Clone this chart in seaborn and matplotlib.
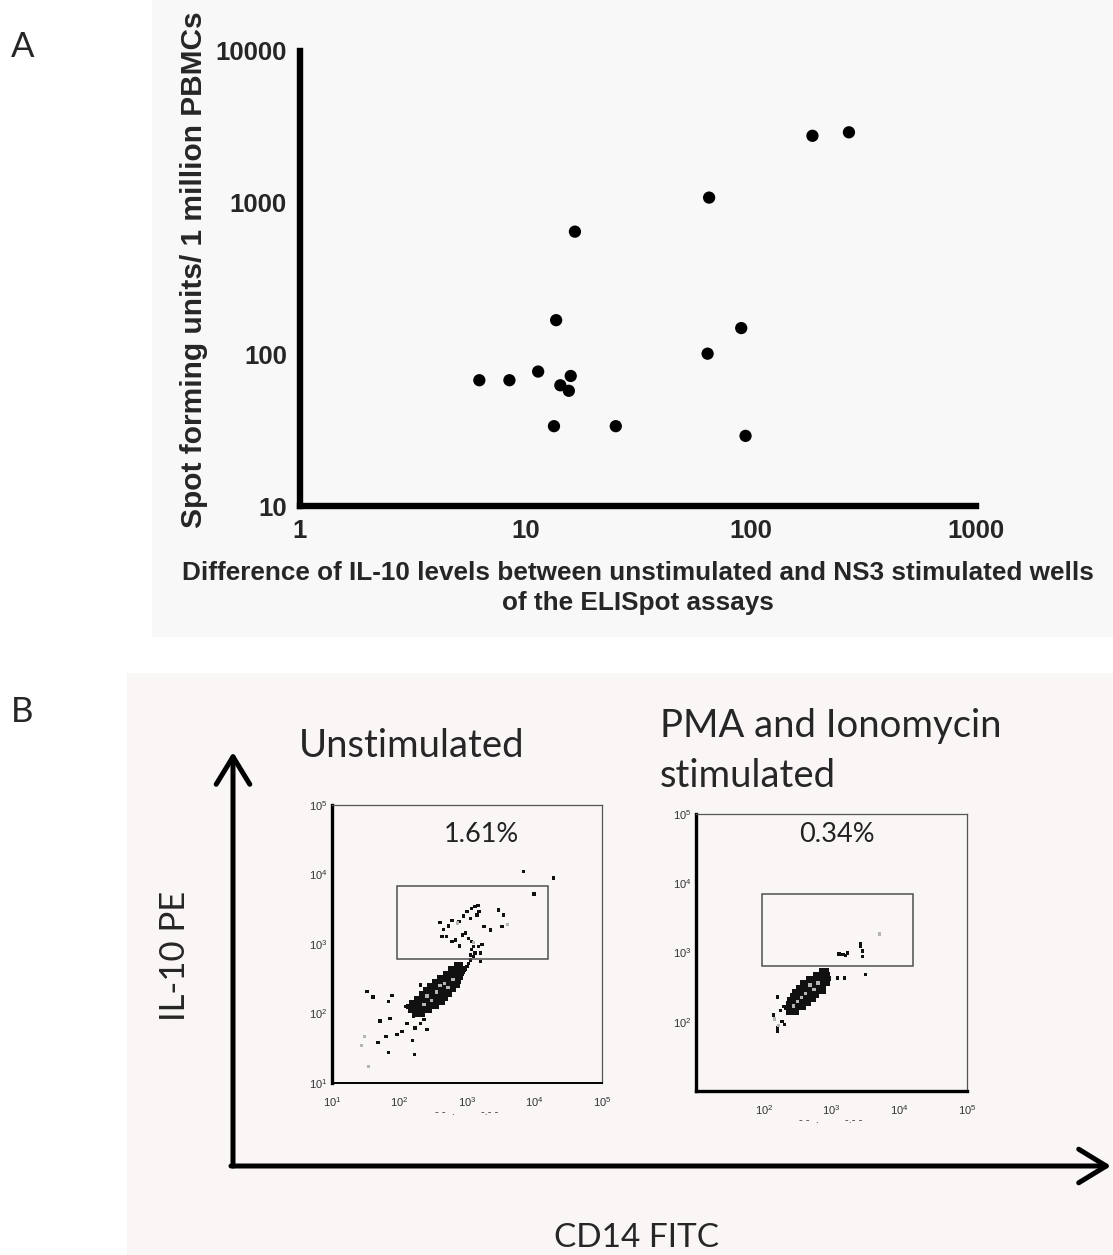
import numpy as np
import pandas as pd
import matplotlib
matplotlib.use("Agg")
import matplotlib.pyplot as plt
import seaborn as sns
from matplotlib.patches import Rectangle, FancyArrowPatch
from matplotlib.ticker import LogLocator, FixedLocator, FixedFormatter, NullFormatter

# ---- Panel A: ELISpot ----
il10_diff = [6.25, 8.5, 11.4, 13.7, 14.3, 15.9, 15.6, 13.4, 16.6, 25.2,
             65.4, 64.4, 90.8, 94.9, 188, 273]
sfu = [67.5, 67.5, 77, 168, 62.5, 72, 57.5, 33.6, 644, 33.6,
       1080, 101, 149, 29, 2760, 2910]
x_ticks_a = [1, 10, 100, 1000]
y_ticks_a = [10, 100, 1000, 10000]

# ---- Panel B: flow cytometry events (log10 CD14 FITC, log10 IL-10 PE) ----
# unstimulated - dense cluster
unst_core_x = [2.22, 2.28, 2.34,
               2.16, 2.20, 2.26, 2.32, 2.38, 2.44,
               2.14, 2.18, 2.24, 2.30, 2.36, 2.42, 2.48, 2.54,
               2.18, 2.22, 2.28, 2.34, 2.40, 2.46, 2.52, 2.58, 2.64,
               2.26, 2.32, 2.38, 2.44, 2.50, 2.56, 2.62, 2.68,
               2.32, 2.38, 2.44, 2.50, 2.56, 2.62, 2.68, 2.74,
               2.38, 2.44, 2.50, 2.56, 2.62, 2.68, 2.74, 2.80,
               2.44, 2.50, 2.56, 2.62, 2.68, 2.74, 2.80, 2.86,
               2.52, 2.58, 2.64, 2.70, 2.76, 2.82, 2.88,
               2.60, 2.66, 2.72, 2.78, 2.84, 2.90,
               2.68, 2.74, 2.80, 2.86, 2.92,
               2.76, 2.82, 2.88, 2.94,
               2.84, 2.90]
unst_core_y = [1.98, 1.98, 1.98,
               2.04, 2.04, 2.04, 2.04, 2.04, 2.04,
               2.10, 2.10, 2.10, 2.10, 2.10, 2.10, 2.10, 2.10,
               2.16, 2.16, 2.16, 2.16, 2.16, 2.16, 2.16, 2.16, 2.16,
               2.22, 2.22, 2.22, 2.22, 2.22, 2.22, 2.22, 2.22,
               2.28, 2.28, 2.28, 2.28, 2.28, 2.28, 2.28, 2.28,
               2.34, 2.34, 2.34, 2.34, 2.34, 2.34, 2.34, 2.34,
               2.40, 2.40, 2.40, 2.40, 2.40, 2.40, 2.40, 2.40,
               2.46, 2.46, 2.46, 2.46, 2.46, 2.46, 2.46,
               2.52, 2.52, 2.52, 2.52, 2.52, 2.52,
               2.58, 2.58, 2.58, 2.58, 2.58,
               2.64, 2.64, 2.64, 2.64,
               2.70, 2.70]
# unstimulated - scattered events
unst_dots_x = [3.84, 4.28, 3.99, 2.60, 2.65, 2.73, 2.78, 2.88, 2.95, 3.00, 3.07, 3.12,
               3.16, 3.18, 3.15, 3.05, 3.25, 3.35, 3.47, 3.54, 3.52, 2.70, 2.78, 2.83,
               2.93, 2.98, 3.02, 3.07, 3.10, 3.17, 3.22, 3.07, 3.12, 3.10, 3.05, 3.20,
               2.89, 2.63, 3.05, 3.02, 3.00, 2.98, 2.95, 3.20,
               1.52, 1.61, 1.84, 1.89, 1.71, 1.86, 1.68, 1.80, 1.84, 2.19, 2.22, 1.96,
               2.04, 2.09, 2.16, 2.21, 2.23, 2.31, 2.36, 2.41, 2.11, 2.31]
unst_dots_y = [4.04, 3.95, 3.72, 3.31, 3.21, 3.26, 3.34, 3.32, 3.40, 3.47, 3.51, 3.54,
               3.55, 3.47, 3.42, 3.37, 3.25, 3.20, 3.49, 3.42, 3.25, 3.11, 3.04, 3.06,
               3.13, 3.16, 3.08, 3.04, 2.96, 2.96, 2.99, 2.92, 2.87, 2.82, 2.84, 2.87,
               2.97, 3.11, 2.77, 2.72, 2.68, 2.63, 2.59, 2.75,
               2.32, 2.24, 2.17, 2.26, 1.89, 1.93, 1.58, 1.67, 1.44, 1.61, 1.41, 1.70,
               1.74, 2.10, 2.08, 1.96, 1.79, 1.86, 1.91, 1.77, 1.86, 2.41]
unst_grey_x = [2.41, 2.55, 2.67, 2.47, 2.72, 2.36, 2.60, 2.79, 1.44, 1.48, 1.54, 2.86, 3.60, 3.10]
unst_grey_y = [2.25, 2.31, 2.43, 2.19, 2.37, 2.13, 2.40, 2.49, 1.54, 1.67, 1.24, 3.30, 3.28, 3.02]

# PMA/Ionomycin - dense cluster
stim_core_x = [2.36, 2.42, 2.48,
               2.34, 2.40, 2.46, 2.52, 2.58,
               2.36, 2.42, 2.48, 2.54, 2.60, 2.66,
               2.38, 2.44, 2.50, 2.56, 2.62, 2.68, 2.74,
               2.42, 2.48, 2.54, 2.60, 2.66, 2.72, 2.78,
               2.46, 2.52, 2.58, 2.64, 2.70, 2.76, 2.82, 2.88,
               2.52, 2.58, 2.64, 2.70, 2.76, 2.82, 2.88,
               2.58, 2.64, 2.70, 2.76, 2.82, 2.88, 2.94,
               2.66, 2.72, 2.78, 2.84, 2.90, 2.96,
               2.76, 2.82, 2.88, 2.94,
               2.86, 2.92]
stim_core_y = [2.14, 2.14, 2.14,
               2.20, 2.20, 2.20, 2.20, 2.20,
               2.26, 2.26, 2.26, 2.26, 2.26, 2.26,
               2.32, 2.32, 2.32, 2.32, 2.32, 2.32, 2.32,
               2.38, 2.38, 2.38, 2.38, 2.38, 2.38, 2.38,
               2.44, 2.44, 2.44, 2.44, 2.44, 2.44, 2.44, 2.44,
               2.50, 2.50, 2.50, 2.50, 2.50, 2.50, 2.50,
               2.56, 2.56, 2.56, 2.56, 2.56, 2.56, 2.56,
               2.62, 2.62, 2.62, 2.62, 2.62, 2.62,
               2.68, 2.68, 2.68, 2.68,
               2.74, 2.74]
stim_dots_x = [2.20, 2.14, 2.20, 2.20, 2.27, 2.31, 2.25, 2.30, 3.11, 3.17, 3.21, 3.24,
               3.46, 3.46, 3.43, 3.43, 3.09, 3.19, 3.50]
stim_dots_y = [2.36, 2.10, 1.91, 1.86, 2.00, 1.96, 2.16, 2.22, 2.98, 2.97, 2.96, 2.99,
               3.02, 2.94, 3.13, 3.09, 2.63, 2.63, 2.68]
stim_grey_x = [3.71, 2.16, 2.22, 2.50, 2.62, 2.74, 2.56, 2.80, 2.44, 2.68]
stim_grey_y = [3.27, 2.04, 1.95, 2.29, 2.41, 2.47, 2.35, 2.56, 2.23, 2.53]

# gate (log10 bounds) and percentages
gate_unst = (1.96, 4.20, 2.79, 3.84)
gate_stim = (1.98, 4.20, 2.80, 3.85)
pct_unst = "1.61%"
pct_stim = "0.34%"

sns.set_style("white")
plt.rcParams['font.family'] = ['Liberation Sans', 'DejaVu Sans']
plt.rcParams['mathtext.default'] = 'regular'

W, H = 1113, 1255
fig = plt.figure(figsize=(W / 100, H / 100), dpi=100)


def px_axes(x0, y0, x1, y1):
    return fig.add_axes([x0 / W, 1 - y1 / H, (x1 - x0) / W, (y1 - y0) / H])


# background canvas in pixel coordinates
bg = fig.add_axes([0, 0, 1, 1], zorder=-5)
bg.set_xlim(0, W)
bg.set_ylim(H, 0)
bg.axis('off')
bg.add_patch(Rectangle((152, 0), W - 152, 637, fc='#f8f8f8', ec='none'))
bg.add_patch(Rectangle((127, 673), W - 127, H - 673, fc='#faf6f6', ec='none'))

calibri = ['Lato', 'DejaVu Sans']
bg.text(23, 47, "A", fontsize=25, family=calibri, ha='center', va='center')
bg.text(22, 712, "B", fontsize=25, family=calibri, ha='center', va='center')

# ---------------- Panel A ----------------
axA = px_axes(300, 51, 976, 506)
axA.patch.set_alpha(0)
sns.scatterplot(x=il10_diff, y=sfu, ax=axA, color='black', s=78, edgecolor='none', legend=False)
axA.set_xscale('log')
axA.set_yscale('log')
axA.set_xlim(1, 1000)
axA.set_ylim(10, 10000)
for side in ['top', 'right']:
    axA.spines[side].set_visible(False)
for side in ['left', 'bottom']:
    axA.spines[side].set_linewidth(4.6)
    axA.spines[side].set_color('black')
axA.xaxis.set_major_locator(FixedLocator(x_ticks_a))
axA.xaxis.set_major_formatter(FixedFormatter([str(v) for v in x_ticks_a]))
axA.yaxis.set_major_locator(FixedLocator(y_ticks_a))
axA.yaxis.set_major_formatter(FixedFormatter([str(v) for v in y_ticks_a]))
axA.xaxis.set_minor_locator(LogLocator(base=10, subs=np.arange(2, 10)))
axA.yaxis.set_minor_locator(LogLocator(base=10, subs=np.arange(2, 10)))
axA.xaxis.set_minor_formatter(NullFormatter())
axA.yaxis.set_minor_formatter(NullFormatter())
axA.tick_params(which='major', direction='out', length=6.5, width=2.5, labelsize=18.5, pad=3)
axA.tick_params(which='minor', direction='out', length=5.5, width=2)
for lab in axA.get_xticklabels() + axA.get_yticklabels():
    lab.set_fontweight('bold')
axA.set_ylabel("Spot forming units/ 1 million PBMCs", fontsize=21.5, fontweight='bold', labelpad=3)
axA.yaxis.set_label_coords(-0.136, 0.52)
axA.set_xlabel("Difference of IL-10 levels between unstimulated and NS3 stimulated wells\nof the ELISpot assays",
               fontsize=18.8, fontweight='bold', labelpad=13, linespacing=1.3)

# ---------------- Panel B ----------------
# big axis arrows
bg.add_patch(FancyArrowPatch((233, 1166), (233, 752), arrowstyle='->,head_length=0.9,head_width=0.55',
                             mutation_scale=22, lw=3.6, color='black', shrinkA=0, shrinkB=0))
bg.add_patch(FancyArrowPatch((231, 1166), (1111, 1166), arrowstyle='->,head_length=0.9,head_width=0.55',
                             mutation_scale=22, lw=3.6, color='black', shrinkA=0, shrinkB=0))
bg.text(175, 956, "IL-10 PE", fontsize=25, family=calibri, rotation=90, ha='center', va='center')
bg.text(636, 1238, "CD14 FITC", fontsize=24, family=calibri, ha='center', va='center')
bg.text(299, 757, "Unstimulated", fontsize=27.5, family=calibri, ha='left', va='baseline')
bg.text(660, 737, "PMA and Ionomycin", fontsize=27.5, family=calibri, ha='left', va='baseline')
bg.text(660, 787, "stimulated", fontsize=27.5, family=calibri, ha='left', va='baseline')


def flow_panel(ax, core_x, core_y, dots_x, dots_y, grey_x, grey_y, gate, pct, pct_pos, show_first):
    ax.patch.set_alpha(0)
    sns.scatterplot(x=10 ** np.array(core_x), y=10 ** np.array(core_y), ax=ax, marker='s',
                    s=14, color='#111111', edgecolor='none', legend=False)
    sns.scatterplot(x=10 ** np.array(dots_x), y=10 ** np.array(dots_y), ax=ax, marker='s',
                    s=6, color='#111111', edgecolor='none', legend=False)
    sns.scatterplot(x=10 ** np.array(grey_x), y=10 ** np.array(grey_y), ax=ax, marker='s',
                    s=6, color='#b5b5b5', edgecolor='none', legend=False)
    ax.set_xscale('log')
    ax.set_yscale('log')
    ax.set_xlim(10, 1e5)
    ax.set_ylim(10, 1e5)
    x0, x1, y0, y1 = gate
    ax.add_patch(Rectangle((10 ** x0, 10 ** y0), 10 ** x1 - 10 ** x0, 10 ** y1 - 10 ** y0,
                           fill=False, ec='#505050', lw=1.1))
    ax.text(10 ** pct_pos[0], 10 ** pct_pos[1], pct, fontsize=19.5, family=calibri,
            ha='center', va='center', color='#222222')
    for side in ['top', 'right']:
        ax.spines[side].set_color('#555555')
        ax.spines[side].set_linewidth(0.9)
    ax.spines['left'].set_color('black')
    ax.spines['left'].set_linewidth(2.4)
    ax.spines['bottom'].set_color('black')
    ax.spines['bottom'].set_linewidth(1.4 if show_first else 2.4)
    decades = [10, 100, 1000, 10000, 100000]
    labels = ['$10^{%d}$' % k for k in range(1, 6)]
    if show_first:
        xt, xl, yt, yl = decades, labels, decades, labels
    else:
        xt, xl, yt, yl = decades[1:], labels[1:], decades[1:], labels[1:]
    ax.xaxis.set_major_locator(FixedLocator(xt))
    ax.xaxis.set_major_formatter(FixedFormatter(xl))
    ax.yaxis.set_major_locator(FixedLocator(yt))
    ax.yaxis.set_major_formatter(FixedFormatter(yl))
    ax.xaxis.set_minor_locator(LogLocator(base=10, subs=np.arange(2, 10)))
    ax.yaxis.set_minor_locator(LogLocator(base=10, subs=np.arange(2, 10)))
    ax.xaxis.set_minor_formatter(NullFormatter())
    ax.yaxis.set_minor_formatter(NullFormatter())
    ax.tick_params(which='major', direction='inout', length=5, width=0.9, labelsize=8,
                   colors='#333333', pad=3)
    ax.tick_params(which='minor', direction='inout', length=3, width=0.7, colors='#333333')
    ax.tick_params(axis='x', pad=6)
    ax.tick_params(axis='y', pad=1)


axL = px_axes(332, 805, 602, 1083)
flow_panel(axL, unst_core_x, unst_core_y, unst_dots_x, unst_dots_y, unst_grey_x, unst_grey_y,
           gate_unst, pct_unst, (3.21, 4.57), True)
axR = px_axes(696, 814, 967, 1091)
flow_panel(axR, stim_core_x, stim_core_y, stim_dots_x, stim_dots_y, stim_grey_x, stim_grey_y,
           gate_stim, pct_stim, (3.08, 4.70), False)

# small scan marks beside the 10^3 labels
bg.text(445, 1112, "- -  .", fontsize=8, color='#333333', ha='center', va='center')
bg.text(490, 1112, "-.- -", fontsize=8, color='#333333', ha='center', va='center')
bg.text(809, 1120, "- -  .", fontsize=8, color='#333333', ha='center', va='center')
bg.text(854, 1120, "-.- -", fontsize=8, color='#333333', ha='center', va='center')

fig.savefig("out.png", dpi=100)
